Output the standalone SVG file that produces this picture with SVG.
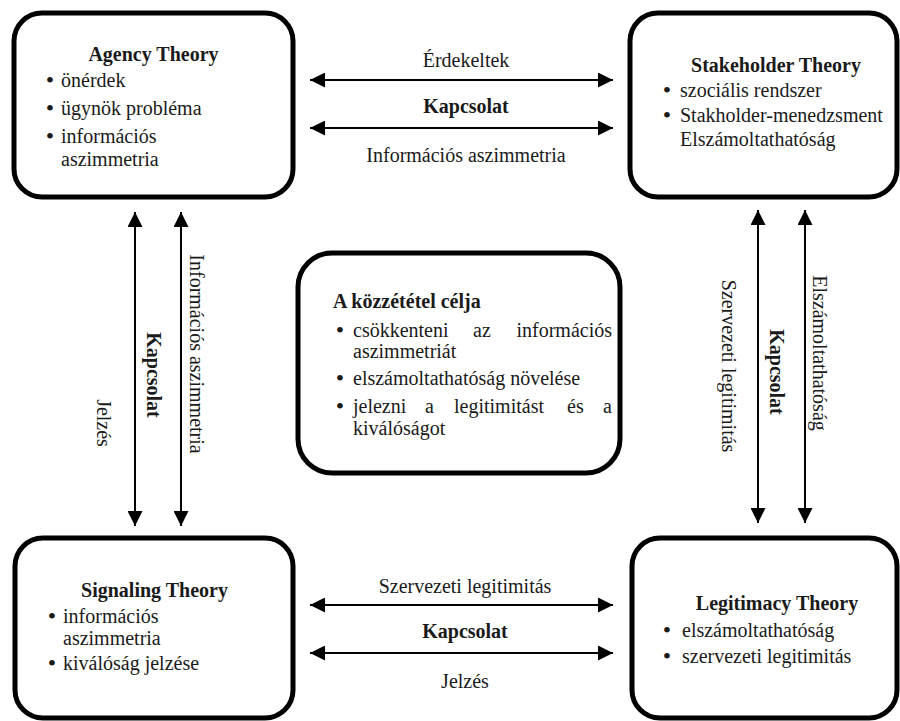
<svg xmlns="http://www.w3.org/2000/svg" width="900" height="721" viewBox="0 0 900 721">
<defs>
<marker id="ah" viewBox="0 0 15 15" refX="15" refY="7.5" markerWidth="15" markerHeight="15" markerUnits="userSpaceOnUse" orient="auto-start-reverse">
<path d="M0,0 L15,7.5 L0,15 z" fill="#000"/>
</marker>
<style>
.box{fill:#fff;stroke:#000;stroke-width:5}
.t{font-family:"Liberation Serif","Times New Roman",serif;font-size:20px;fill:#1a1a1a}
.b{font-weight:bold}
.m{text-anchor:middle}
.e{text-anchor:end}
.bu{font-family:"Liberation Serif","Times New Roman",serif;font-size:24px;fill:#1a1a1a;text-anchor:middle}
.ln{stroke:#000;stroke-width:2;fill:none;marker-start:url(#ah);marker-end:url(#ah)}
</style>
</defs>
<rect width="900" height="721" fill="#fff"/>

<g id="connectors">
<line class="ln" x1="310" y1="80" x2="613" y2="80"/>
<line class="ln" x1="310" y1="128" x2="613" y2="128"/>
<text class="t m" x="466" y="67">Érdekeltek</text>
<text class="t m b" x="466" y="113">Kapcsolat</text>
<text class="t m" x="466" y="162">Információs aszimmetria</text>

<line class="ln" x1="310" y1="605" x2="613" y2="605"/>
<line class="ln" x1="310" y1="653" x2="613" y2="653"/>
<text class="t m" x="465" y="593">Szervezeti legitimitás</text>
<text class="t m b" x="465" y="638">Kapcsolat</text>
<text class="t m" x="465" y="688">Jelzés</text>

<line class="ln" x1="135" y1="212" x2="135" y2="526"/>
<line class="ln" x1="181" y1="212" x2="181" y2="526"/>
<text class="t m" transform="translate(97,423) rotate(90)">Jelzés</text>
<text class="t m b" transform="translate(147,375) rotate(90)">Kapcsolat</text>
<text class="t m" transform="translate(190,354) rotate(90)">Információs aszimmetria</text>

<line class="ln" x1="758" y1="210" x2="758" y2="523"/>
<line class="ln" x1="805" y1="210" x2="805" y2="523"/>
<text class="t m" transform="translate(722,366) rotate(90)">Szervezeti legitimitás</text>
<text class="t m b" transform="translate(770,372) rotate(90)">Kapcsolat</text>
<text class="t m" transform="translate(813,353) rotate(90)">Elszámoltathatóság</text>
</g>

<g id="agency">
<rect class="box" x="14" y="13" width="279" height="184" rx="28"/>
<text class="t m b" x="153.5" y="61">Agency Theory</text>
<text class="bu" x="50" y="88">•</text><text class="t" x="61" y="87">önérdek</text>
<text class="bu" x="50" y="116">•</text><text class="t" x="61" y="115">ügynök probléma</text>
<text class="bu" x="50" y="144">•</text><text class="t" x="61" y="143">információs</text>
<text class="t" x="61" y="166">aszimmetria</text>
</g>

<g id="stakeholder">
<rect class="box" x="630" y="13" width="267" height="184" rx="28"/>
<text class="t m b" x="776" y="72">Stakeholder Theory</text>
<text class="bu" x="667" y="98">•</text><text class="t" x="680" y="97">szociális rendszer</text>
<text class="bu" x="667" y="123">•</text><text class="t" x="680" y="122">Stakholder-menedzsment</text>
<text class="t" x="680" y="146">Elszámoltathatóság</text>
</g>

<g id="center">
<rect class="box" x="298" y="253" width="322" height="220" rx="34"/>
<text class="t b" x="333" y="308">A közzététel célja</text>
<text class="bu" x="340" y="338">•</text>
<text class="t" x="353" y="337">csökkenteni</text>
<text class="t" x="473" y="337">az</text>
<text class="t e" x="612" y="337">információs</text>
<text class="t" x="353" y="358">aszimmetriát</text>
<text class="bu" x="340" y="386">•</text>
<text class="t" x="353" y="385">elszámoltathatóság növelése</text>
<text class="bu" x="340" y="414">•</text>
<text class="t" x="353" y="413">jelezni</text>
<text class="t" x="425" y="413">a</text>
<text class="t" x="454" y="413">legitimitást</text>
<text class="t" x="567" y="413">és</text>
<text class="t e" x="612" y="413">a</text>
<text class="t" x="353" y="435">kiválóságot</text>
</g>

<g id="signaling">
<rect class="box" x="15" y="538" width="278" height="180" rx="28"/>
<text class="t m b" x="154.5" y="597">Signaling Theory</text>
<text class="bu" x="52" y="624">•</text><text class="t" x="63" y="623">információs</text>
<text class="t" x="63" y="645">aszimmetria</text>
<text class="bu" x="52" y="671">•</text><text class="t" x="63" y="670">kiválóság jelzése</text>
</g>

<g id="legitimacy">
<rect class="box" x="632" y="538" width="265" height="180" rx="28"/>
<text class="t m b" x="777" y="610">Legitimacy Theory</text>
<text class="bu" x="667" y="638">•</text><text class="t" x="682" y="637">elszámoltathatóság</text>
<text class="bu" x="667" y="664">•</text><text class="t" x="682" y="663">szervezeti legitimitás</text>
</g>
</svg>
